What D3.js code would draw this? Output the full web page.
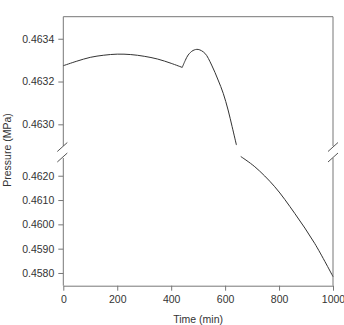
<html>
<head>
<script src="https://d3js.org/d3.v7.min.js"></script>
<style>
  body { margin: 0; background: #fff; }
  text { font-family: "Liberation Sans", Arial, sans-serif; fill: #333; }
  .axis path, .axis line { stroke: #777; }
  .axis text { font-size: 10.5px; fill: #333; }
</style>
</head>
<body>
<div id="chart"></div>
<script>
// time (min) / pressure (MPa)
var timeA = [0, 50, 100, 150, 200, 250, 300, 350, 400, 441]
var presA = [0.463274, 0.463295, 0.463313, 0.463323, 0.463328, 0.463326, 0.463318, 0.463305, 0.463285, 0.463266]
var timeB = [441, 452, 463, 481, 500, 525, 550, 574, 593, 611, 626, 642]
var presB = [0.463266, 0.463298, 0.463324, 0.463345, 0.463350, 0.463332, 0.463277, 0.463207, 0.463145, 0.463067, 0.462989, 0.462903]
var timeC = [658, 710, 784, 858, 932, 1000]
var presC = [0.462790, 0.462370, 0.461547, 0.460453, 0.459218, 0.457850]

var xTicks = [0, 200, 400, 600, 800, 1000]
var upperTicks = [0.4630, 0.4632, 0.4634]
var lowerTicks = [0.4580, 0.4590, 0.4600, 0.4610, 0.4620]

var width = 344, height = 325
var left = 63.3, right = 333

var svg = d3.select("#chart").append("svg")
    .attr("width", width)
    .attr("height", height)

var x = d3.scaleLinear().domain([0, 1000]).range([left, right])
var yUp = d3.scaleLinear().domain([0.462894, 0.463503]).range([147, 16.7])
var yLo = d3.scaleLinear().domain([0.457477, 0.462770]).range([285.7, 157])

// frame pieces
var frame = svg.append("g").attr("stroke", "#777").attr("fill", "none")
frame.append("line").attr("x1", left).attr("x2", right).attr("y1", 16.7).attr("y2", 16.7)
frame.append("line").attr("x1", right).attr("x2", right).attr("y1", 16.7).attr("y2", 146)
frame.append("line").attr("x1", right).attr("x2", right).attr("y1", 158).attr("y2", 285.7)

// axes
svg.append("g").attr("class", "axis")
    .attr("transform", "translate(0,285.7)")
    .call(d3.axisBottom(x).tickValues(xTicks).tickFormat(d3.format("d")).tickSize(5).tickPadding(5).tickSizeOuter(0))

svg.append("g").attr("class", "axis")
    .attr("transform", "translate(" + left + ",0)")
    .call(d3.axisLeft(yUp).tickValues(upperTicks).tickFormat(d3.format(".4f")).tickSize(5).tickPadding(4).tickSizeOuter(0))
    .select(".domain").attr("d", "M0,16.7V146")

svg.append("g").attr("class", "axis")
    .attr("transform", "translate(" + left + ",0)")
    .call(d3.axisLeft(yLo).tickValues(lowerTicks).tickFormat(d3.format(".4f")).tickSize(5).tickPadding(4).tickSizeOuter(0))
    .select(".domain").attr("d", "M0,158V285.7")

// break marks
var breaks = svg.append("g").attr("stroke", "#555").attr("stroke-width", 1)
;[left - 1, right].forEach(function(bx) {
  ;[147, 157.5].forEach(function(by) {
    breaks.append("line")
      .attr("x1", bx - 5).attr("y1", by + 4.5)
      .attr("x2", bx + 5).attr("y2", by - 4.5)
  })
})

// curves
function drawLine(ts, ps, y) {
  var pts = ts.map(function(t, i) { return [t, ps[i]] })
  var line = d3.line()
      .x(function(d) { return x(d[0]) })
      .y(function(d) { return y(d[1]) })
      .curve(d3.curveCatmullRom)
  svg.append("path").datum(pts)
      .attr("d", line)
      .attr("fill", "none")
      .attr("stroke", "#333")
      .attr("stroke-width", 1)
}
drawLine(timeA, presA, yUp)
drawLine(timeB, presB, yUp)
drawLine(timeC, presC, yLo)

// titles
svg.append("text")
    .attr("x", (left + right) / 2).attr("y", 323)
    .attr("text-anchor", "middle")
    .attr("font-size", "10.5px")
    .text("Time (min)")

svg.append("text")
    .attr("transform", "translate(11,150) rotate(-90)")
    .attr("text-anchor", "middle")
    .attr("font-size", "10.5px")
    .text("Pressure (MPa)")
</script>
</body>
</html>
